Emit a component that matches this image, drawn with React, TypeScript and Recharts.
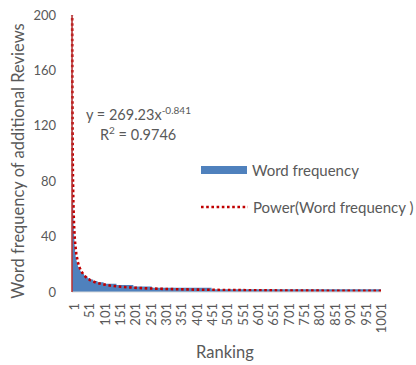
import React from "react"
import {
  ComposedChart,
  Area,
  Line,
  XAxis,
  YAxis,
} from "recharts"

// word frequency of the top 30 ranks
const headFreq = [
  200, 118, 84, 66, 55, 48, 42, 38, 34, 31,
  29, 27, 25, 24, 23, 22, 21, 20, 20, 19,
  18, 18, 17, 17, 16, 16, 16, 15, 15, 15,
]
// then plateaus of equal frequency (value, how many ranks)
const runFreq = [14, 13, 12, 11, 10, 9, 8, 7, 6, 5, 4, 3, 2]
const runLength = [4, 5, 5, 7, 8, 10, 14, 20, 42, 55, 60, 195, 553]

// power trendline y = 269.23x^-0.841, read at some ranks
const trendRank = [1, 2, 3, 4, 5, 6, 7, 8, 10, 12, 15, 20, 25, 30, 40, 50, 60, 80, 100, 130, 160, 200, 250, 300, 400, 500, 600, 700, 800, 900, 1008]
const trendValue = [269.2, 150.3, 106.9, 83.8, 69.5, 59.7, 52.4, 46.8, 38.8, 33.3, 27.6, 21.6, 18.0, 15.4, 12.1, 10.0, 8.6, 6.7, 5.6, 4.5, 3.76, 3.13, 2.59, 2.22, 1.74, 1.45, 1.24, 1.09, 0.97, 0.88, 0.81]

const xTicks = [1, 51, 101, 151, 201, 251, 301, 351, 401, 451, 501, 551, 601, 651, 701, 751, 801, 851, 901, 951, 1001]
const yTicks = [0, 40, 80, 120, 160, 200]

type Row = { rank: number; freq: number; trend?: number | null }

const rows: Row[] = []
headFreq.forEach((v) => rows.push({ rank: rows.length + 1, freq: v, trend: null }))
runFreq.forEach((v, i) => {
  for (let k = 0; k < runLength[i]; k++) rows.push({ rank: rows.length + 1, freq: v, trend: null })
})
trendRank.forEach((r, i) => {
  rows[r - 1].trend = trendValue[i]
})

const FONT = "Lato, 'Open Sans', sans-serif"
const GREY = "#595959"
const BLUE = "#4f81bd"
const RED = "#c00000"

function RankTick(props: any) {
  const { x, y, payload } = props
  return (
    <text
      transform={`translate(${x + 2},${y + 11}) rotate(-90)`}
      textAnchor="end"
      dominantBaseline="central"
      fill={GREY}
      fontSize={13}
      fontFamily={FONT}
    >
      {payload.value}
    </text>
  )
}

export default function App() {
  return (
    <div
      style={{
        position: "absolute",
        left: 0,
        top: 0,
        width: 416,
        height: 365,
        overflow: "hidden",
        background: "#fff",
        fontFamily: FONT,
        color: GREY,
      }}
    >
      <ComposedChart
        width={416}
        height={365}
        data={rows}
        margin={{ top: 15, right: 35, left: 0, bottom: 0 }}
      >
        <XAxis
          dataKey="rank"
          ticks={xTicks}
          interval={0}
          tick={<RankTick />}
          tickLine={false}
          tickSize={0}
          tickMargin={0}
          height={73}
          axisLine={{ stroke: "#d9d9d9" }}
        />
        <YAxis
          domain={[0, 200]}
          ticks={yTicks}
          allowDataOverflow
          width={72}
          tickLine={false}
          tickSize={0}
          tickMargin={16}
          axisLine={{ stroke: "#b8312f", strokeWidth: 1.5 }}
          tick={{ fill: GREY, fontSize: 13, fontFamily: FONT }}
        />
        <Area
          dataKey="freq"
          type="stepAfter"
          fill={BLUE}
          fillOpacity={1}
          stroke="none"
          isAnimationActive={false}
        />
        <Line
          dataKey="trend"
          connectNulls
          stroke={RED}
          strokeWidth={2.6}
          strokeDasharray="2.6 2.6"
          dot={false}
          activeDot={false}
          isAnimationActive={false}
        />
      </ComposedChart>

      <div
        style={{
          position: "absolute",
          left: 18,
          top: 161,
          transform: "translate(-50%, -50%) rotate(-90deg)",
          whiteSpace: "nowrap",
          fontSize: 16.5,
          lineHeight: "20px",
        }}
      >
        Word frequency of additional Reviews
      </div>

      <div
        style={{
          position: "absolute",
          left: 225,
          top: 352,
          transform: "translate(-50%, -50%)",
          whiteSpace: "nowrap",
          fontSize: 16.5,
          lineHeight: "20px",
        }}
      >
        Ranking
      </div>

      <div style={{ position: "absolute", left: 86, top: 105, fontSize: 14.5, lineHeight: "20px", whiteSpace: "nowrap" }}>
        y = 269.23x<sup style={{ fontSize: 10, verticalAlign: "6px", lineHeight: 0 }}>-0.841</sup>
      </div>
      <div style={{ position: "absolute", left: 100, top: 125, fontSize: 14.5, lineHeight: "20px", whiteSpace: "nowrap" }}>
        R<sup style={{ fontSize: 10, verticalAlign: "6px", lineHeight: 0 }}>2</sup> = 0.9746
      </div>

      <div style={{ position: "absolute", left: 201, top: 166, width: 46, height: 8, background: BLUE }} />
      <div style={{ position: "absolute", left: 252, top: 160, fontSize: 15, lineHeight: "20px", whiteSpace: "nowrap" }}>
        Word frequency
      </div>

      <svg style={{ position: "absolute", left: 200, top: 203 }} width={48} height={8}>
        <line x1={1} y1={4} x2={48} y2={4} stroke={RED} strokeWidth={2.6} strokeDasharray="2.6 2.6" />
      </svg>
      <div style={{ position: "absolute", left: 253, top: 197, fontSize: 15, lineHeight: "20px", whiteSpace: "nowrap" }}>
        Power(Word frequency )
      </div>
    </div>
  )
}
